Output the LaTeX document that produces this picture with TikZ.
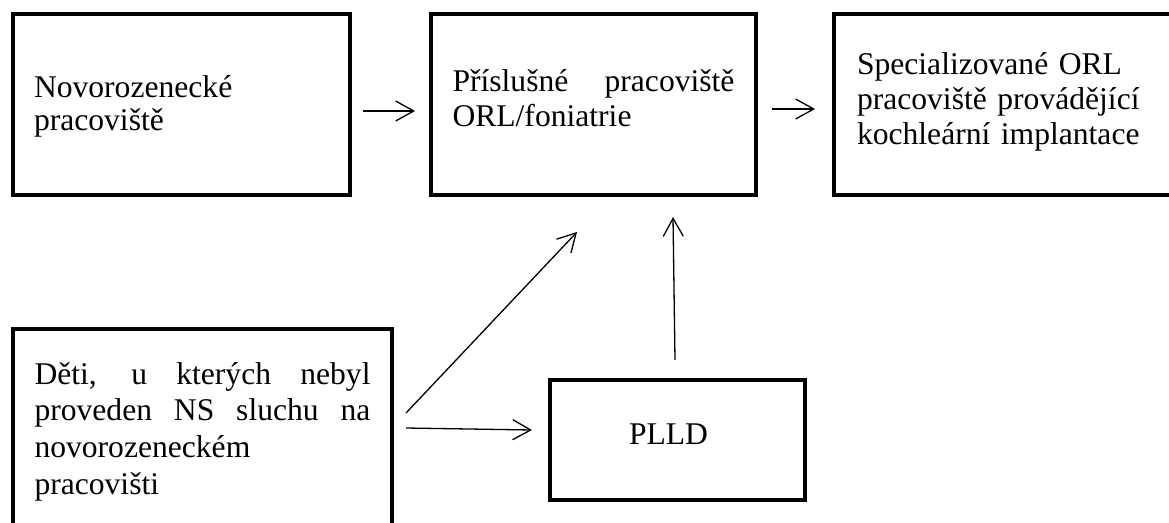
\documentclass[tikz,border=0pt]{standalone}
\usepackage{fontspec}
\setmainfont{Liberation Serif}
\usetikzlibrary{arrows.meta,positioning,calc}
\hyphenpenalty=10000

\tikzset{
  box/.style={draw, line width=4pt, anchor=north west, inner ysep=0pt,
    align=justify, font=\fontsize{31.6}{35}\selectfont},
  arr/.style={line width=1.3pt, -{Straight Barb[length=18pt,width=20pt]}}
}

\begin{document}
\begin{tikzpicture}[x=1pt,y=-1pt]
\useasboundingbox (0,0) rectangle (1169,522);
\clip (0,0) rectangle (1169,522);
% top row
\node[box, font=\fontsize{31.6}{33}\selectfont, text width=295pt, inner xsep=21pt,
  text height=83.7pt, text depth=97.3pt] (novo) at (11,12)
  {Novorozenecké\newline pracoviště};
\node[box, text width=282pt, inner xsep=21.5pt,
  text height=77.3pt, text depth=103.7pt] (prisl) at (429,12)
  {Příslušné pracoviště\linebreak ORL/foniatrie};
\node[box, align=left, text width=334pt, inner xsep=23pt,
  text height=60pt, text depth=121pt] (spec) at (832,12)
  {Specializované ORL\newline pracoviště provádějící\newline kochleární implantace};
% bottom row
\node[box, font=\fontsize{31.6}{36.7}\selectfont, text width=336pt, inner xsep=21.5pt,
  text height=55pt, text depth=165pt] (deti) at (11,327)
  {Děti, u kterých nebyl\linebreak proveden NS sluchu na\linebreak
   novorozeneckém\newline pracovišti};
\node[box, align=left, text width=97pt, inner xsep=79pt,
  text height=64pt, text depth=56pt] (plld) at (548,378) {PLLD};
% free arrow ends
\coordinate (diagend) at (577,232);
\coordinate (upend) at (673,217);
% connectors
\draw[arr] ([xshift=11pt,yshift=-6.5pt]novo.east) -- ([xshift=-14pt,yshift=-6.5pt]prisl.west);
\draw[arr] ([xshift=14pt,yshift=-4.5pt]prisl.east) -- ([xshift=-17pt,yshift=-4.5pt]spec.west);
\draw[arr] ([xshift=12pt,yshift=-101pt]deti.north east) -- ([xshift=-16pt,yshift=10pt]plld.west);
\draw[arr] ([xshift=12pt,yshift=-86pt]deti.north east) -- (diagend);
\draw[arr] ([xshift=-2.5pt,yshift=18pt]plld.north) -- (upend);
\end{tikzpicture}
\end{document}
